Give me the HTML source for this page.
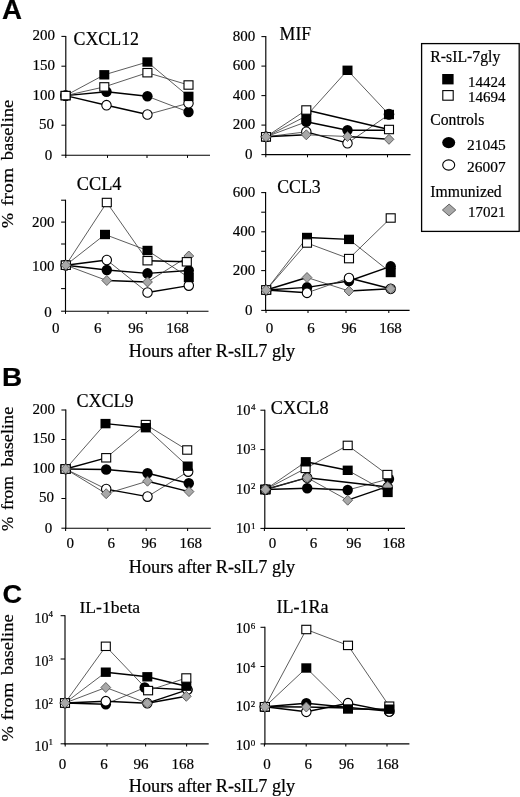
<!DOCTYPE html>
<html lang="en">
<head>
<meta charset="utf-8">
<title>Figure</title>
<style>
html,body{margin:0;padding:0;background:#fff;}
body{width:520px;height:797px;overflow:hidden;}
svg{display:block;will-change:transform;}
svg text{font-family:"Liberation Serif",serif;fill:#000;stroke:#000;stroke-width:0.2px;}
</style>
</head>
<body>
<svg width="520" height="797" viewBox="0 0 520 797">
<rect x="0" y="0" width="520" height="797" fill="#fff"/>
<text x="2.1" y="19" font-size="28.4" textLength="20" lengthAdjust="spacingAndGlyphs" font-weight="bold" style="font-family:'Liberation Sans',sans-serif">A</text>
<text x="2.0" y="385.6" font-size="26" textLength="20.2" lengthAdjust="spacingAndGlyphs" font-weight="bold" style="font-family:'Liberation Sans',sans-serif">B</text>
<text x="2.4" y="602.6" font-size="26" textLength="19.6" lengthAdjust="spacingAndGlyphs" font-weight="bold" style="font-family:'Liberation Sans',sans-serif">C</text>
<text transform="translate(13.2,160.3) rotate(-90)" font-size="17.5" textLength="60.5" lengthAdjust="spacingAndGlyphs">baseline</text>
<text transform="translate(13.2,205.9) rotate(-90)" font-size="17.5" textLength="38" lengthAdjust="spacingAndGlyphs">from</text>
<text transform="translate(13.2,228.1) rotate(-90)" font-size="17.5" textLength="15" lengthAdjust="spacingAndGlyphs">%</text>
<text transform="translate(13.2,466.6) rotate(-90)" font-size="17.5" textLength="60" lengthAdjust="spacingAndGlyphs">baseline</text>
<text transform="translate(13.2,510.1) rotate(-90)" font-size="17.5" textLength="34" lengthAdjust="spacingAndGlyphs">from</text>
<text transform="translate(13.2,530.9) rotate(-90)" font-size="17.5" textLength="14.2" lengthAdjust="spacingAndGlyphs">%</text>
<text transform="translate(13.2,674.9) rotate(-90)" font-size="17.5" textLength="60.5" lengthAdjust="spacingAndGlyphs">baseline</text>
<text transform="translate(13.2,720.5) rotate(-90)" font-size="17.5" textLength="38" lengthAdjust="spacingAndGlyphs">from</text>
<text transform="translate(13.2,741.3) rotate(-90)" font-size="17.5" textLength="15" lengthAdjust="spacingAndGlyphs">%</text>
<text x="128.8" y="356.9" font-size="18" textLength="166.4" lengthAdjust="spacingAndGlyphs">Hours after R-sIL7 gly</text>
<text x="128.8" y="573.4" font-size="18" textLength="166.4" lengthAdjust="spacingAndGlyphs">Hours after R-sIL7 gly</text>
<text x="128.8" y="792.2" font-size="18" textLength="166.4" lengthAdjust="spacingAndGlyphs">Hours after R-sIL7 gly</text>
<line x1="65.8" y1="35.9" x2="65.8" y2="155.7" stroke="#000" stroke-width="1.15"/>
<line x1="65.3" y1="155.2" x2="210" y2="155.2" stroke="#000" stroke-width="1.15"/>
<line x1="61.4" y1="36.4" x2="65.8" y2="36.4" stroke="#000" stroke-width="1.05"/>
<line x1="61.4" y1="66.2" x2="65.8" y2="66.2" stroke="#000" stroke-width="1.05"/>
<line x1="61.4" y1="95.8" x2="65.8" y2="95.8" stroke="#000" stroke-width="1.05"/>
<line x1="61.4" y1="125.2" x2="65.8" y2="125.2" stroke="#000" stroke-width="1.05"/>
<line x1="61.4" y1="155.2" x2="65.8" y2="155.2" stroke="#000" stroke-width="1.05"/>
<line x1="107.5" y1="155.2" x2="107.5" y2="157.89999999999998" stroke="#000" stroke-width="1.05"/>
<line x1="147" y1="155.2" x2="147" y2="157.89999999999998" stroke="#000" stroke-width="1.05"/>
<line x1="187.5" y1="155.2" x2="187.5" y2="157.89999999999998" stroke="#000" stroke-width="1.05"/>
<line x1="65.8" y1="155.2" x2="65.8" y2="157.89999999999998" stroke="#000" stroke-width="1.05"/>
<text x="55" y="40.1" font-size="15" text-anchor="end">200</text>
<text x="55" y="69.9" font-size="15" text-anchor="end">150</text>
<text x="55" y="99.5" font-size="15" text-anchor="end">100</text>
<text x="54.0" y="128.9" font-size="15" text-anchor="end">50</text>
<text x="52.3" y="159.7" font-size="15" text-anchor="end">0</text>
<text x="73.5" y="44.8" font-size="18" textLength="65.5" lengthAdjust="spacingAndGlyphs">CXCL12</text>
<line x1="65.6" y1="95.6" x2="106.5" y2="91.8" stroke="#000" stroke-width="1.4"/>
<line x1="106.5" y1="91.8" x2="147.4" y2="96.3" stroke="#000" stroke-width="1.4"/>
<line x1="147.4" y1="96.3" x2="188.5" y2="112" stroke="#333" stroke-width="0.8"/>
<line x1="65.6" y1="95.6" x2="106.5" y2="105.2" stroke="#000" stroke-width="1.4"/>
<line x1="106.5" y1="105.2" x2="147.4" y2="114.5" stroke="#000" stroke-width="1.4"/>
<line x1="147.4" y1="114.5" x2="188.5" y2="103.2" stroke="#333" stroke-width="0.8"/>
<line x1="65.6" y1="95.6" x2="104.3" y2="74.8" stroke="#333" stroke-width="0.8"/>
<line x1="104.3" y1="74.8" x2="147.4" y2="62" stroke="#333" stroke-width="0.8"/>
<line x1="147.4" y1="62" x2="188.5" y2="96.4" stroke="#333" stroke-width="0.8"/>
<line x1="65.6" y1="95.6" x2="104.3" y2="86.9" stroke="#333" stroke-width="0.8"/>
<line x1="104.3" y1="86.9" x2="147.4" y2="72.7" stroke="#333" stroke-width="0.8"/>
<line x1="147.4" y1="72.7" x2="188.5" y2="85" stroke="#333" stroke-width="0.8"/>
<ellipse cx="65.6" cy="95.6" rx="5.2" ry="5.3" fill="#000"/>
<ellipse cx="106.5" cy="91.8" rx="5.2" ry="5.3" fill="#000"/>
<ellipse cx="147.4" cy="96.3" rx="5.2" ry="5.3" fill="#000"/>
<ellipse cx="188.5" cy="112" rx="5.2" ry="5.3" fill="#000"/>
<ellipse cx="65.6" cy="95.6" rx="4.7" ry="4.8" fill="#fff" stroke="#000" stroke-width="1.1"/>
<ellipse cx="106.5" cy="105.2" rx="4.7" ry="4.8" fill="#fff" stroke="#000" stroke-width="1.1"/>
<ellipse cx="147.4" cy="114.5" rx="4.7" ry="4.8" fill="#fff" stroke="#000" stroke-width="1.1"/>
<ellipse cx="188.5" cy="103.2" rx="4.7" ry="4.8" fill="#fff" stroke="#000" stroke-width="1.1"/>
<rect x="60.60" y="90.90" width="10.0" height="9.4" fill="#000"/>
<rect x="99.30" y="70.10" width="10.0" height="9.4" fill="#000"/>
<rect x="142.40" y="57.30" width="10.0" height="9.4" fill="#000"/>
<rect x="183.50" y="91.70" width="10.0" height="9.4" fill="#000"/>
<rect x="61.10" y="91.40" width="9.0" height="8.4" fill="#fff" stroke="#000" stroke-width="1.1"/>
<rect x="99.80" y="82.70" width="9.0" height="8.4" fill="#fff" stroke="#000" stroke-width="1.1"/>
<rect x="142.90" y="68.50" width="9.0" height="8.4" fill="#fff" stroke="#000" stroke-width="1.1"/>
<rect x="184.00" y="80.80" width="9.0" height="8.4" fill="#fff" stroke="#000" stroke-width="1.1"/>
<line x1="265.8" y1="36.1" x2="265.8" y2="155.1" stroke="#000" stroke-width="1.15"/>
<line x1="265.3" y1="154.6" x2="410.5" y2="154.6" stroke="#000" stroke-width="1.15"/>
<line x1="261.4" y1="36.6" x2="265.8" y2="36.6" stroke="#000" stroke-width="1.05"/>
<line x1="261.4" y1="66.1" x2="265.8" y2="66.1" stroke="#000" stroke-width="1.05"/>
<line x1="261.4" y1="95.6" x2="265.8" y2="95.6" stroke="#000" stroke-width="1.05"/>
<line x1="261.4" y1="125.1" x2="265.8" y2="125.1" stroke="#000" stroke-width="1.05"/>
<line x1="261.4" y1="154.6" x2="265.8" y2="154.6" stroke="#000" stroke-width="1.05"/>
<line x1="307.5" y1="154.6" x2="307.5" y2="157.29999999999998" stroke="#000" stroke-width="1.05"/>
<line x1="346.5" y1="154.6" x2="346.5" y2="157.29999999999998" stroke="#000" stroke-width="1.05"/>
<line x1="387.5" y1="154.6" x2="387.5" y2="157.29999999999998" stroke="#000" stroke-width="1.05"/>
<line x1="265.8" y1="154.6" x2="265.8" y2="157.29999999999998" stroke="#000" stroke-width="1.05"/>
<text x="255.2" y="40.5" font-size="15" text-anchor="end">800</text>
<text x="255.2" y="70.0" font-size="15" text-anchor="end">600</text>
<text x="255.2" y="99.5" font-size="15" text-anchor="end">400</text>
<text x="255.2" y="129.0" font-size="15" text-anchor="end">200</text>
<text x="252.5" y="159.3" font-size="15" text-anchor="end">0</text>
<text x="279.6" y="40.3" font-size="18" textLength="31.6" lengthAdjust="spacingAndGlyphs">MIF</text>
<line x1="266" y1="136.8" x2="306.3" y2="121.8" stroke="#333" stroke-width="0.8"/>
<line x1="306.3" y1="121.8" x2="347.5" y2="130.3" stroke="#000" stroke-width="1.4"/>
<line x1="266" y1="136.8" x2="306.3" y2="131.8" stroke="#333" stroke-width="0.8"/>
<line x1="306.3" y1="131.8" x2="347.5" y2="143.2" stroke="#000" stroke-width="1.4"/>
<line x1="347.5" y1="143.2" x2="389" y2="114.5" stroke="#333" stroke-width="0.8"/>
<line x1="266" y1="136.8" x2="306.3" y2="116" stroke="#333" stroke-width="0.8"/>
<line x1="306.3" y1="116" x2="347.5" y2="70.3" stroke="#333" stroke-width="0.8"/>
<line x1="347.5" y1="70.3" x2="389" y2="114.5" stroke="#333" stroke-width="0.8"/>
<line x1="266" y1="136.8" x2="306.3" y2="110" stroke="#333" stroke-width="0.8"/>
<line x1="306.3" y1="110" x2="389" y2="129.5" stroke="#000" stroke-width="1.4"/>
<line x1="266" y1="136.8" x2="306.3" y2="134.8" stroke="#000" stroke-width="1.4"/>
<line x1="306.3" y1="134.8" x2="347.5" y2="136.5" stroke="#333" stroke-width="0.8"/>
<line x1="347.5" y1="136.5" x2="389" y2="139.3" stroke="#000" stroke-width="1.4"/>
<line x1="347.5" y1="130.3" x2="389" y2="130.2" stroke="#000" stroke-width="1.4"/>
<ellipse cx="266" cy="136.8" rx="5.2" ry="5.3" fill="#000"/>
<ellipse cx="306.3" cy="121.8" rx="5.2" ry="5.3" fill="#000"/>
<ellipse cx="347.5" cy="130.3" rx="5.2" ry="5.3" fill="#000"/>
<ellipse cx="389" cy="114" rx="5.2" ry="5.3" fill="#000"/>
<ellipse cx="266" cy="136.8" rx="4.7" ry="4.8" fill="#fff" stroke="#000" stroke-width="1.1"/>
<ellipse cx="306.3" cy="131.8" rx="4.7" ry="4.8" fill="#fff" stroke="#000" stroke-width="1.1"/>
<ellipse cx="347.5" cy="143.2" rx="4.7" ry="4.8" fill="#fff" stroke="#000" stroke-width="1.1"/>
<ellipse cx="389" cy="114.5" rx="4.7" ry="4.8" fill="#fff" stroke="#000" stroke-width="1.1"/>
<rect x="261.00" y="132.10" width="10.0" height="9.4" fill="#000"/>
<rect x="301.30" y="111.30" width="10.0" height="9.4" fill="#000"/>
<rect x="342.50" y="65.60" width="10.0" height="9.4" fill="#000"/>
<rect x="384.00" y="109.80" width="10.0" height="9.4" fill="#000"/>
<rect x="261.50" y="132.60" width="9.0" height="8.4" fill="#fff" stroke="#000" stroke-width="1.1"/>
<rect x="301.80" y="105.80" width="9.0" height="8.4" fill="#fff" stroke="#000" stroke-width="1.1"/>
<rect x="384.50" y="125.30" width="9.0" height="8.4" fill="#fff" stroke="#000" stroke-width="1.1"/>
<polygon points="261.10,136.8 266,131.80 270.90,136.8 266,141.80" fill="#a8a8a8" stroke="#555" stroke-width="0.9"/>
<polygon points="301.40,134.8 306.3,129.80 311.20,134.8 306.3,139.80" fill="#a8a8a8" stroke="#555" stroke-width="0.9"/>
<polygon points="342.60,136.5 347.5,131.50 352.40,136.5 347.5,141.50" fill="#a8a8a8" stroke="#555" stroke-width="0.9"/>
<polygon points="384.10,139.3 389,134.30 393.90,139.3 389,144.30" fill="#a8a8a8" stroke="#555" stroke-width="0.9"/>
<rect x="421.6" y="43.6" width="97.6" height="187.8" fill="#fff" stroke="#000" stroke-width="1.3"/>
<text x="430.3" y="62.3" font-size="15.7" textLength="70" lengthAdjust="spacingAndGlyphs">R-sIL-7gly</text>
<rect x="442.2" y="74" width="11.4" height="10.4" fill="#000"/>
<text x="468.0" y="86.7" font-size="15" textLength="37.4" lengthAdjust="spacingAndGlyphs">14424</text>
<rect x="442.8" y="90.6" width="10.4" height="9.6" fill="#fff" stroke="#000" stroke-width="1.1"/>
<text x="468.0" y="101.5" font-size="15" textLength="37.4" lengthAdjust="spacingAndGlyphs">14694</text>
<text x="430.3" y="125.2" font-size="15.7" textLength="54" lengthAdjust="spacingAndGlyphs">Controls</text>
<ellipse cx="448.7" cy="142.6" rx="6.5" ry="5.6" fill="#000"/>
<text x="467.0" y="149.6" font-size="15" textLength="38.6" lengthAdjust="spacingAndGlyphs">21045</text>
<ellipse cx="448.7" cy="165" rx="6" ry="5.1" fill="#fff" stroke="#000" stroke-width="1.1"/>
<text x="467.0" y="172.3" font-size="15" textLength="38.6" lengthAdjust="spacingAndGlyphs">26007</text>
<text x="430.3" y="196.8" font-size="15.7" textLength="71.4" lengthAdjust="spacingAndGlyphs">Immunized</text>
<polygon points="442.4,210 449.1,204.1 455.8,210 449.1,215.9" fill="#a8a8a8" stroke="#555" stroke-width="0.9"/>
<text x="468.0" y="217.2" font-size="15" textLength="37.6" lengthAdjust="spacingAndGlyphs">17021</text>
<line x1="65.5" y1="199.7" x2="65.5" y2="311.7" stroke="#000" stroke-width="1.15"/>
<line x1="65.0" y1="311.2" x2="208.5" y2="311.2" stroke="#000" stroke-width="1.15"/>
<line x1="61.1" y1="200.2" x2="65.5" y2="200.2" stroke="#000" stroke-width="1.05"/>
<line x1="61.1" y1="222.1" x2="65.5" y2="222.1" stroke="#000" stroke-width="1.05"/>
<line x1="61.1" y1="244" x2="65.5" y2="244" stroke="#000" stroke-width="1.05"/>
<line x1="61.1" y1="266.2" x2="65.5" y2="266.2" stroke="#000" stroke-width="1.05"/>
<line x1="61.1" y1="288.6" x2="65.5" y2="288.6" stroke="#000" stroke-width="1.05"/>
<line x1="61.1" y1="311.2" x2="65.5" y2="311.2" stroke="#000" stroke-width="1.05"/>
<line x1="65.5" y1="311.2" x2="65.5" y2="313.9" stroke="#000" stroke-width="1.05"/>
<line x1="108" y1="311.2" x2="108" y2="313.9" stroke="#000" stroke-width="1.05"/>
<line x1="146.3" y1="311.2" x2="146.3" y2="313.9" stroke="#000" stroke-width="1.05"/>
<line x1="187.3" y1="311.2" x2="187.3" y2="313.9" stroke="#000" stroke-width="1.05"/>
<text x="54.4" y="226.6" font-size="15" text-anchor="end">200</text>
<text x="54.4" y="270.7" font-size="15" text-anchor="end">100</text>
<text x="51.7" y="316.5" font-size="15" text-anchor="end">0</text>
<text x="76.8" y="189.8" font-size="18" textLength="44.6" lengthAdjust="spacingAndGlyphs">CCL4</text>
<line x1="65.8" y1="265.2" x2="106.8" y2="270" stroke="#000" stroke-width="1.4"/>
<line x1="106.8" y1="270" x2="147.5" y2="273.4" stroke="#000" stroke-width="1.4"/>
<line x1="147.5" y1="273.4" x2="188.8" y2="270.5" stroke="#000" stroke-width="1.4"/>
<line x1="65.8" y1="265.2" x2="106.8" y2="260" stroke="#000" stroke-width="1.4"/>
<line x1="106.8" y1="260" x2="147.5" y2="292.5" stroke="#333" stroke-width="0.8"/>
<line x1="147.5" y1="292.5" x2="188.8" y2="285.6" stroke="#000" stroke-width="1.4"/>
<line x1="65.8" y1="265.2" x2="106.8" y2="280.5" stroke="#333" stroke-width="0.8"/>
<line x1="106.8" y1="280.5" x2="147.5" y2="282" stroke="#000" stroke-width="1.4"/>
<line x1="147.5" y1="282" x2="188.8" y2="256" stroke="#333" stroke-width="0.8"/>
<line x1="65.8" y1="265.2" x2="105.0" y2="234.5" stroke="#333" stroke-width="0.8"/>
<line x1="105.0" y1="234.5" x2="147.5" y2="250.5" stroke="#333" stroke-width="0.8"/>
<line x1="147.5" y1="250.5" x2="188.8" y2="277.5" stroke="#333" stroke-width="0.8"/>
<line x1="65.8" y1="265.2" x2="106.8" y2="202.5" stroke="#333" stroke-width="0.8"/>
<line x1="106.8" y1="202.5" x2="147.5" y2="260.7" stroke="#333" stroke-width="0.8"/>
<line x1="147.5" y1="260.7" x2="186.8" y2="261.8" stroke="#000" stroke-width="1.4"/>
<ellipse cx="65.8" cy="265.2" rx="5.2" ry="5.3" fill="#000"/>
<ellipse cx="106.8" cy="270" rx="5.2" ry="5.3" fill="#000"/>
<ellipse cx="147.5" cy="273.4" rx="5.2" ry="5.3" fill="#000"/>
<ellipse cx="188.8" cy="270.5" rx="5.2" ry="5.3" fill="#000"/>
<ellipse cx="65.8" cy="265.2" rx="4.7" ry="4.8" fill="#fff" stroke="#000" stroke-width="1.1"/>
<ellipse cx="106.8" cy="260" rx="4.7" ry="4.8" fill="#fff" stroke="#000" stroke-width="1.1"/>
<ellipse cx="147.5" cy="292.5" rx="4.7" ry="4.8" fill="#fff" stroke="#000" stroke-width="1.1"/>
<ellipse cx="188.8" cy="285.6" rx="4.7" ry="4.8" fill="#fff" stroke="#000" stroke-width="1.1"/>
<polygon points="60.90,265.2 65.8,260.20 70.70,265.2 65.8,270.20" fill="#a8a8a8" stroke="#555" stroke-width="0.9"/>
<polygon points="101.90,280.5 106.8,275.50 111.70,280.5 106.8,285.50" fill="#a8a8a8" stroke="#555" stroke-width="0.9"/>
<polygon points="142.60,282 147.5,277.00 152.40,282 147.5,287.00" fill="#a8a8a8" stroke="#555" stroke-width="0.9"/>
<polygon points="183.90,256 188.8,251.00 193.70,256 188.8,261.00" fill="#a8a8a8" stroke="#555" stroke-width="0.9"/>
<rect x="60.80" y="260.50" width="10.0" height="9.4" fill="#000"/>
<rect x="100.00" y="229.80" width="10.0" height="9.4" fill="#000"/>
<rect x="142.50" y="245.80" width="10.0" height="9.4" fill="#000"/>
<rect x="183.80" y="272.80" width="10.0" height="9.4" fill="#000"/>
<rect x="61.30" y="261.00" width="9.0" height="8.4" fill="#fff" stroke="#000" stroke-width="1.1"/>
<rect x="102.30" y="198.30" width="9.0" height="8.4" fill="#fff" stroke="#000" stroke-width="1.1"/>
<rect x="143.00" y="256.50" width="9.0" height="8.4" fill="#fff" stroke="#000" stroke-width="1.1"/>
<rect x="182.30" y="257.60" width="9.0" height="8.4" fill="#fff" stroke="#000" stroke-width="1.1"/>
<polygon points="60.90,265.2 65.8,260.20 70.70,265.2 65.8,270.20" fill="#a8a8a8" stroke="#555" stroke-width="0.9"/>
<text x="55.7" y="332.7" font-size="15" text-anchor="middle">0</text>
<text x="97.8" y="332.7" font-size="15" text-anchor="middle">6</text>
<text x="135.8" y="332.7" font-size="15" text-anchor="middle">96</text>
<text x="177.5" y="332.7" font-size="15" text-anchor="middle">168</text>
<line x1="265.6" y1="192.1" x2="265.6" y2="310.9" stroke="#000" stroke-width="1.15"/>
<line x1="265.1" y1="310.4" x2="409.6" y2="310.4" stroke="#000" stroke-width="1.15"/>
<line x1="261.2" y1="192.6" x2="265.6" y2="192.6" stroke="#000" stroke-width="1.05"/>
<line x1="261.2" y1="212.2" x2="265.6" y2="212.2" stroke="#000" stroke-width="1.05"/>
<line x1="261.2" y1="231.8" x2="265.6" y2="231.8" stroke="#000" stroke-width="1.05"/>
<line x1="261.2" y1="251.3" x2="265.6" y2="251.3" stroke="#000" stroke-width="1.05"/>
<line x1="261.2" y1="270.6" x2="265.6" y2="270.6" stroke="#000" stroke-width="1.05"/>
<line x1="261.2" y1="290.2" x2="265.6" y2="290.2" stroke="#000" stroke-width="1.05"/>
<line x1="261.2" y1="310.4" x2="265.6" y2="310.4" stroke="#000" stroke-width="1.05"/>
<line x1="266" y1="310.4" x2="266" y2="313.09999999999997" stroke="#000" stroke-width="1.05"/>
<line x1="308" y1="310.4" x2="308" y2="313.09999999999997" stroke="#000" stroke-width="1.05"/>
<line x1="346" y1="310.4" x2="346" y2="313.09999999999997" stroke="#000" stroke-width="1.05"/>
<line x1="388.8" y1="310.4" x2="388.8" y2="313.09999999999997" stroke="#000" stroke-width="1.05"/>
<text x="255.2" y="196.8" font-size="15" text-anchor="end">600</text>
<text x="255.2" y="236.0" font-size="15" text-anchor="end">400</text>
<text x="255.2" y="274.8" font-size="15" text-anchor="end">200</text>
<text x="252.5" y="315.4" font-size="15" text-anchor="end">0</text>
<text x="277.2" y="192.8" font-size="18" textLength="43.6" lengthAdjust="spacingAndGlyphs">CCL3</text>
<line x1="266.2" y1="290" x2="307" y2="287.4" stroke="#000" stroke-width="1.4"/>
<line x1="307" y1="287.4" x2="349" y2="281" stroke="#000" stroke-width="1.4"/>
<line x1="349" y1="281" x2="390.7" y2="266.4" stroke="#000" stroke-width="1.4"/>
<line x1="266.2" y1="290" x2="307" y2="292.8" stroke="#000" stroke-width="1.4"/>
<line x1="307" y1="292.8" x2="349" y2="278" stroke="#333" stroke-width="0.8"/>
<line x1="349" y1="278" x2="390.7" y2="288.8" stroke="#000" stroke-width="1.4"/>
<line x1="266.2" y1="290" x2="307" y2="237.5" stroke="#333" stroke-width="0.8"/>
<line x1="307" y1="237.5" x2="349" y2="239.4" stroke="#000" stroke-width="1.4"/>
<line x1="349" y1="239.4" x2="390.7" y2="272.5" stroke="#333" stroke-width="0.8"/>
<line x1="266.2" y1="290" x2="307" y2="243" stroke="#333" stroke-width="0.8"/>
<line x1="307" y1="243" x2="349" y2="258.6" stroke="#333" stroke-width="0.8"/>
<line x1="349" y1="258.6" x2="390.7" y2="218" stroke="#333" stroke-width="0.8"/>
<line x1="266.2" y1="290" x2="307" y2="277.5" stroke="#000" stroke-width="1.4"/>
<line x1="307" y1="277.5" x2="349" y2="291" stroke="#333" stroke-width="0.8"/>
<line x1="349" y1="291" x2="390.7" y2="288.8" stroke="#000" stroke-width="1.4"/>
<ellipse cx="266.2" cy="290" rx="5.2" ry="5.3" fill="#000"/>
<ellipse cx="307" cy="287.4" rx="5.2" ry="5.3" fill="#000"/>
<ellipse cx="349" cy="281" rx="5.2" ry="5.3" fill="#000"/>
<ellipse cx="390.7" cy="266.4" rx="5.2" ry="5.3" fill="#000"/>
<ellipse cx="266.2" cy="290" rx="4.7" ry="4.8" fill="#fff" stroke="#000" stroke-width="1.1"/>
<ellipse cx="307" cy="292.8" rx="4.7" ry="4.8" fill="#fff" stroke="#000" stroke-width="1.1"/>
<ellipse cx="349" cy="278" rx="4.7" ry="4.8" fill="#fff" stroke="#000" stroke-width="1.1"/>
<ellipse cx="390.7" cy="288.8" rx="4.7" ry="4.8" fill="#fff" stroke="#000" stroke-width="1.1"/>
<rect x="261.20" y="285.30" width="10.0" height="9.4" fill="#000"/>
<rect x="302.00" y="232.80" width="10.0" height="9.4" fill="#000"/>
<rect x="344.00" y="234.70" width="10.0" height="9.4" fill="#000"/>
<rect x="385.70" y="267.80" width="10.0" height="9.4" fill="#000"/>
<rect x="261.70" y="285.80" width="9.0" height="8.4" fill="#fff" stroke="#000" stroke-width="1.1"/>
<rect x="302.50" y="238.80" width="9.0" height="8.4" fill="#fff" stroke="#000" stroke-width="1.1"/>
<rect x="344.50" y="254.40" width="9.0" height="8.4" fill="#fff" stroke="#000" stroke-width="1.1"/>
<rect x="386.20" y="213.80" width="9.0" height="8.4" fill="#fff" stroke="#000" stroke-width="1.1"/>
<polygon points="261.30,290 266.2,285.00 271.10,290 266.2,295.00" fill="#a8a8a8" stroke="#555" stroke-width="0.9"/>
<polygon points="302.10,277.5 307,272.50 311.90,277.5 307,282.50" fill="#a8a8a8" stroke="#555" stroke-width="0.9"/>
<polygon points="344.10,291 349,286.00 353.90,291 349,296.00" fill="#a8a8a8" stroke="#555" stroke-width="0.9"/>
<polygon points="385.80,288.8 390.7,283.80 395.60,288.8 390.7,293.80" fill="#a8a8a8" stroke="#555" stroke-width="0.9"/>
<text x="269.6" y="332.7" font-size="15" text-anchor="middle">0</text>
<text x="311.1" y="332.7" font-size="15" text-anchor="middle">6</text>
<text x="348.9" y="332.7" font-size="15" text-anchor="middle">96</text>
<text x="390.4" y="332.7" font-size="15" text-anchor="middle">168</text>
<line x1="65.8" y1="409.5" x2="65.8" y2="528.7" stroke="#000" stroke-width="1.15"/>
<line x1="65.3" y1="528.2" x2="210.8" y2="528.2" stroke="#000" stroke-width="1.15"/>
<line x1="61.4" y1="410" x2="65.8" y2="410" stroke="#000" stroke-width="1.05"/>
<line x1="61.4" y1="439.5" x2="65.8" y2="439.5" stroke="#000" stroke-width="1.05"/>
<line x1="61.4" y1="469" x2="65.8" y2="469" stroke="#000" stroke-width="1.05"/>
<line x1="61.4" y1="498.5" x2="65.8" y2="498.5" stroke="#000" stroke-width="1.05"/>
<line x1="61.4" y1="528.2" x2="65.8" y2="528.2" stroke="#000" stroke-width="1.05"/>
<line x1="65.6" y1="528.2" x2="65.6" y2="530.9000000000001" stroke="#000" stroke-width="1.05"/>
<line x1="107.8" y1="528.2" x2="107.8" y2="530.9000000000001" stroke="#000" stroke-width="1.05"/>
<line x1="146.2" y1="528.2" x2="146.2" y2="530.9000000000001" stroke="#000" stroke-width="1.05"/>
<line x1="187.6" y1="528.2" x2="187.6" y2="530.9000000000001" stroke="#000" stroke-width="1.05"/>
<text x="55" y="413.7" font-size="15" text-anchor="end">200</text>
<text x="55" y="443.2" font-size="15" text-anchor="end">150</text>
<text x="55" y="472.7" font-size="15" text-anchor="end">100</text>
<text x="54.0" y="502.2" font-size="15" text-anchor="end">50</text>
<text x="52.3" y="532.7" font-size="15" text-anchor="end">0</text>
<text x="76.4" y="406.5" font-size="18" textLength="57.2" lengthAdjust="spacingAndGlyphs">CXCL9</text>
<line x1="65.6" y1="469" x2="106.2" y2="469.5" stroke="#000" stroke-width="1.4"/>
<line x1="106.2" y1="469.5" x2="147.5" y2="473.2" stroke="#000" stroke-width="1.4"/>
<line x1="147.5" y1="473.2" x2="188.8" y2="483.2" stroke="#000" stroke-width="1.4"/>
<line x1="65.6" y1="469" x2="106.2" y2="489.1" stroke="#333" stroke-width="0.8"/>
<line x1="106.2" y1="489.1" x2="147.5" y2="496.6" stroke="#000" stroke-width="1.4"/>
<line x1="147.5" y1="496.6" x2="188.2" y2="471.6" stroke="#333" stroke-width="0.8"/>
<line x1="65.6" y1="469" x2="106.2" y2="457.8" stroke="#000" stroke-width="1.4"/>
<line x1="106.2" y1="457.8" x2="145.8" y2="424.6" stroke="#333" stroke-width="0.8"/>
<line x1="145.8" y1="424.6" x2="187.2" y2="450" stroke="#333" stroke-width="0.8"/>
<line x1="65.6" y1="469" x2="105.5" y2="423.6" stroke="#333" stroke-width="0.8"/>
<line x1="105.5" y1="423.6" x2="145.8" y2="427.7" stroke="#000" stroke-width="1.4"/>
<line x1="145.8" y1="427.7" x2="187.7" y2="466.2" stroke="#333" stroke-width="0.8"/>
<line x1="65.6" y1="469" x2="106.2" y2="493.7" stroke="#333" stroke-width="0.8"/>
<line x1="106.2" y1="493.7" x2="147.5" y2="481.2" stroke="#333" stroke-width="0.8"/>
<line x1="147.5" y1="481.2" x2="189.0" y2="491.6" stroke="#000" stroke-width="1.4"/>
<ellipse cx="65.6" cy="469" rx="5.2" ry="5.3" fill="#000"/>
<ellipse cx="106.2" cy="469.5" rx="5.2" ry="5.3" fill="#000"/>
<ellipse cx="147.5" cy="473.2" rx="5.2" ry="5.3" fill="#000"/>
<ellipse cx="188.8" cy="483.2" rx="5.2" ry="5.3" fill="#000"/>
<ellipse cx="65.6" cy="469" rx="4.7" ry="4.8" fill="#fff" stroke="#000" stroke-width="1.1"/>
<ellipse cx="106.2" cy="489.1" rx="4.7" ry="4.8" fill="#fff" stroke="#000" stroke-width="1.1"/>
<ellipse cx="147.5" cy="496.6" rx="4.7" ry="4.8" fill="#fff" stroke="#000" stroke-width="1.1"/>
<ellipse cx="188.2" cy="471.6" rx="4.7" ry="4.8" fill="#fff" stroke="#000" stroke-width="1.1"/>
<rect x="61.10" y="464.80" width="9.0" height="8.4" fill="#fff" stroke="#000" stroke-width="1.1"/>
<rect x="101.70" y="453.60" width="9.0" height="8.4" fill="#fff" stroke="#000" stroke-width="1.1"/>
<rect x="141.30" y="420.40" width="9.0" height="8.4" fill="#fff" stroke="#000" stroke-width="1.1"/>
<rect x="182.70" y="445.80" width="9.0" height="8.4" fill="#fff" stroke="#000" stroke-width="1.1"/>
<rect x="60.60" y="464.30" width="10.0" height="9.4" fill="#000"/>
<rect x="100.50" y="418.90" width="10.0" height="9.4" fill="#000"/>
<rect x="140.80" y="423.00" width="10.0" height="9.4" fill="#000"/>
<rect x="182.70" y="461.50" width="10.0" height="9.4" fill="#000"/>
<polygon points="60.70,469 65.6,464.00 70.50,469 65.6,474.00" fill="#a8a8a8" stroke="#555" stroke-width="0.9"/>
<polygon points="101.30,493.7 106.2,488.70 111.10,493.7 106.2,498.70" fill="#a8a8a8" stroke="#555" stroke-width="0.9"/>
<polygon points="142.60,481.2 147.5,476.20 152.40,481.2 147.5,486.20" fill="#a8a8a8" stroke="#555" stroke-width="0.9"/>
<polygon points="184.10,491.6 189.0,486.60 193.90,491.6 189.0,496.60" fill="#a8a8a8" stroke="#555" stroke-width="0.9"/>
<rect x="61.10" y="464.80" width="9.0" height="8.4" fill="#fff" stroke="#000" stroke-width="1.1"/>
<polygon points="60.70,469 65.6,464.00 70.50,469 65.6,474.00" fill="#a8a8a8" stroke="#555" stroke-width="0.9"/>
<text x="70.2" y="547.8" font-size="15" text-anchor="middle">0</text>
<text x="111.2" y="547.8" font-size="15" text-anchor="middle">6</text>
<text x="149" y="547.8" font-size="15" text-anchor="middle">96</text>
<text x="190.8" y="547.8" font-size="15" text-anchor="middle">168</text>
<line x1="264.8" y1="409.7" x2="264.8" y2="528.9" stroke="#000" stroke-width="1.15"/>
<line x1="264.3" y1="528.4" x2="405" y2="528.4" stroke="#000" stroke-width="1.15"/>
<line x1="260.4" y1="410.2" x2="264.8" y2="410.2" stroke="#000" stroke-width="1.05"/>
<line x1="260.4" y1="449.6" x2="264.8" y2="449.6" stroke="#000" stroke-width="1.05"/>
<line x1="260.4" y1="489.2" x2="264.8" y2="489.2" stroke="#000" stroke-width="1.05"/>
<line x1="260.4" y1="528.4" x2="264.8" y2="528.4" stroke="#000" stroke-width="1.05"/>
<line x1="264.4" y1="528.4" x2="264.4" y2="531.1" stroke="#000" stroke-width="1.05"/>
<line x1="306.8" y1="528.4" x2="306.8" y2="531.1" stroke="#000" stroke-width="1.05"/>
<line x1="347.4" y1="528.4" x2="347.4" y2="531.1" stroke="#000" stroke-width="1.05"/>
<line x1="388.4" y1="528.4" x2="388.4" y2="531.1" stroke="#000" stroke-width="1.05"/>
<text x="236.0" y="415.0" font-size="15" textLength="14.4" lengthAdjust="spacingAndGlyphs">10</text>
<text x="250.9" y="410.4" font-size="9">4</text>
<text x="236.0" y="454.4" font-size="15" textLength="14.4" lengthAdjust="spacingAndGlyphs">10</text>
<text x="250.9" y="449.8" font-size="9">3</text>
<text x="236.0" y="494.0" font-size="15" textLength="14.4" lengthAdjust="spacingAndGlyphs">10</text>
<text x="250.9" y="489.4" font-size="9">2</text>
<text x="236.0" y="533.2" font-size="15" textLength="14.4" lengthAdjust="spacingAndGlyphs">10</text>
<text x="250.9" y="528.6" font-size="9">1</text>
<text x="270.8" y="413.6" font-size="18" textLength="57.8" lengthAdjust="spacingAndGlyphs">CXCL8</text>
<line x1="265.4" y1="489.5" x2="307.2" y2="488.2" stroke="#000" stroke-width="1.4"/>
<line x1="307.2" y1="488.2" x2="347.7" y2="490" stroke="#000" stroke-width="1.4"/>
<line x1="347.7" y1="490" x2="389.0" y2="478.9" stroke="#333" stroke-width="0.8"/>
<line x1="265.4" y1="489.5" x2="307.2" y2="477.7" stroke="#000" stroke-width="1.4"/>
<line x1="307.2" y1="477.7" x2="387.7" y2="487" stroke="#000" stroke-width="1.4"/>
<line x1="265.4" y1="489.5" x2="307.2" y2="477.7" stroke="#333" stroke-width="0.8"/>
<line x1="307.2" y1="477.7" x2="347.7" y2="500.2" stroke="#333" stroke-width="0.8"/>
<line x1="347.7" y1="500.2" x2="387.7" y2="486.4" stroke="#000" stroke-width="1.4"/>
<line x1="265.4" y1="489.5" x2="305.6" y2="468.4" stroke="#333" stroke-width="0.8"/>
<line x1="305.6" y1="468.4" x2="347.7" y2="445.4" stroke="#333" stroke-width="0.8"/>
<line x1="347.7" y1="445.4" x2="387.4" y2="474.6" stroke="#333" stroke-width="0.8"/>
<line x1="265.4" y1="489.5" x2="305.8" y2="461.8" stroke="#333" stroke-width="0.8"/>
<line x1="305.8" y1="461.8" x2="347.7" y2="470.3" stroke="#000" stroke-width="1.4"/>
<line x1="347.7" y1="470.3" x2="387.7" y2="492.4" stroke="#333" stroke-width="0.8"/>
<ellipse cx="265.4" cy="489.5" rx="5.2" ry="5.3" fill="#000"/>
<ellipse cx="307.2" cy="488.2" rx="5.2" ry="5.3" fill="#000"/>
<ellipse cx="347.7" cy="490" rx="5.2" ry="5.3" fill="#000"/>
<ellipse cx="389.0" cy="478.9" rx="5.2" ry="5.3" fill="#000"/>
<ellipse cx="265.4" cy="489.5" rx="4.7" ry="4.8" fill="#fff" stroke="#000" stroke-width="1.1"/>
<ellipse cx="307.2" cy="477.7" rx="4.7" ry="4.8" fill="#fff" stroke="#000" stroke-width="1.1"/>
<ellipse cx="387.7" cy="487" rx="4.7" ry="4.8" fill="#fff" stroke="#000" stroke-width="1.1"/>
<polygon points="260.50,489.5 265.4,484.50 270.30,489.5 265.4,494.50" fill="#a8a8a8" stroke="#555" stroke-width="0.9"/>
<polygon points="302.30,477.7 307.2,472.70 312.10,477.7 307.2,482.70" fill="#a8a8a8" stroke="#555" stroke-width="0.9"/>
<polygon points="342.80,500.2 347.7,495.20 352.60,500.2 347.7,505.20" fill="#a8a8a8" stroke="#555" stroke-width="0.9"/>
<polygon points="382.80,486.4 387.7,481.40 392.60,486.4 387.7,491.40" fill="#a8a8a8" stroke="#555" stroke-width="0.9"/>
<rect x="260.90" y="485.30" width="9.0" height="8.4" fill="#fff" stroke="#000" stroke-width="1.1"/>
<rect x="301.10" y="464.20" width="9.0" height="8.4" fill="#fff" stroke="#000" stroke-width="1.1"/>
<rect x="343.20" y="441.20" width="9.0" height="8.4" fill="#fff" stroke="#000" stroke-width="1.1"/>
<rect x="382.90" y="470.40" width="9.0" height="8.4" fill="#fff" stroke="#000" stroke-width="1.1"/>
<rect x="260.40" y="484.80" width="10.0" height="9.4" fill="#000"/>
<rect x="300.80" y="457.10" width="10.0" height="9.4" fill="#000"/>
<rect x="342.70" y="465.60" width="10.0" height="9.4" fill="#000"/>
<rect x="382.70" y="487.70" width="10.0" height="9.4" fill="#000"/>
<rect x="260.90" y="485.30" width="9.0" height="8.4" fill="#fff" stroke="#000" stroke-width="1.1"/>
<ellipse cx="265.4" cy="489.5" rx="4.7" ry="4.8" fill="#fff" stroke="#000" stroke-width="1.1"/>
<polygon points="260.50,489.5 265.4,484.50 270.30,489.5 265.4,494.50" fill="#a8a8a8" stroke="#555" stroke-width="0.9"/>
<text x="272.5" y="547.9" font-size="15" text-anchor="middle">0</text>
<text x="313.6" y="547.9" font-size="15" text-anchor="middle">6</text>
<text x="353.8" y="547.9" font-size="15" text-anchor="middle">96</text>
<text x="393.8" y="547.9" font-size="15" text-anchor="middle">168</text>
<line x1="65" y1="615.2" x2="65" y2="744.3" stroke="#000" stroke-width="1.15"/>
<line x1="64.5" y1="743.8" x2="208.7" y2="743.8" stroke="#000" stroke-width="1.15"/>
<line x1="60.6" y1="615.7" x2="65" y2="615.7" stroke="#000" stroke-width="1.05"/>
<line x1="60.6" y1="659" x2="65" y2="659" stroke="#000" stroke-width="1.05"/>
<line x1="60.6" y1="702.4" x2="65" y2="702.4" stroke="#000" stroke-width="1.05"/>
<line x1="60.6" y1="743.8" x2="65" y2="743.8" stroke="#000" stroke-width="1.05"/>
<line x1="65.2" y1="743.8" x2="65.2" y2="746.5" stroke="#000" stroke-width="1.05"/>
<line x1="107" y1="743.8" x2="107" y2="746.5" stroke="#000" stroke-width="1.05"/>
<line x1="145.6" y1="743.8" x2="145.6" y2="746.5" stroke="#000" stroke-width="1.05"/>
<line x1="186.6" y1="743.8" x2="186.6" y2="746.5" stroke="#000" stroke-width="1.05"/>
<text x="34.5" y="622.6" font-size="15" textLength="14.0" lengthAdjust="spacingAndGlyphs">10</text>
<text x="48.5" y="617.3" font-size="9">4</text>
<text x="34.5" y="665.9" font-size="15" textLength="14.0" lengthAdjust="spacingAndGlyphs">10</text>
<text x="48.5" y="660.6" font-size="9">3</text>
<text x="34.5" y="709.3" font-size="15" textLength="14.0" lengthAdjust="spacingAndGlyphs">10</text>
<text x="48.5" y="704.0" font-size="9">2</text>
<text x="34.5" y="750.7" font-size="15" textLength="14.0" lengthAdjust="spacingAndGlyphs">10</text>
<text x="48.5" y="745.4" font-size="9">1</text>
<text x="79.5" y="612.7" font-size="17.5" textLength="60.6" lengthAdjust="spacingAndGlyphs">IL-1beta</text>
<line x1="65" y1="703" x2="105.8" y2="704.2" stroke="#000" stroke-width="1.4"/>
<line x1="105.8" y1="704.2" x2="144.7" y2="687.6" stroke="#333" stroke-width="0.8"/>
<line x1="144.7" y1="687.6" x2="187.5" y2="689.8" stroke="#000" stroke-width="1.4"/>
<line x1="65" y1="703" x2="105.8" y2="701.2" stroke="#000" stroke-width="1.4"/>
<line x1="105.8" y1="701.2" x2="147.3" y2="703.2" stroke="#000" stroke-width="1.4"/>
<line x1="147.3" y1="703.2" x2="187.3" y2="689.8" stroke="#000" stroke-width="1.4"/>
<line x1="65" y1="703" x2="105.8" y2="672.2" stroke="#333" stroke-width="0.8"/>
<line x1="105.8" y1="672.2" x2="147.3" y2="676.8" stroke="#000" stroke-width="1.4"/>
<line x1="147.3" y1="676.8" x2="186.3" y2="686.2" stroke="#000" stroke-width="1.4"/>
<line x1="65" y1="703" x2="105.8" y2="646.3" stroke="#333" stroke-width="0.8"/>
<line x1="105.8" y1="646.3" x2="148.1" y2="690.6" stroke="#333" stroke-width="0.8"/>
<line x1="148.1" y1="690.6" x2="186.3" y2="678" stroke="#333" stroke-width="0.8"/>
<line x1="65" y1="703" x2="105.8" y2="687.5" stroke="#333" stroke-width="0.8"/>
<line x1="105.8" y1="687.5" x2="147.3" y2="703.2" stroke="#333" stroke-width="0.8"/>
<line x1="147.3" y1="703.2" x2="186.3" y2="696.3" stroke="#000" stroke-width="1.4"/>
<ellipse cx="65" cy="703" rx="5.2" ry="5.3" fill="#000"/>
<ellipse cx="105.8" cy="704.2" rx="5.2" ry="5.3" fill="#000"/>
<ellipse cx="144.7" cy="687.6" rx="5.2" ry="5.3" fill="#000"/>
<ellipse cx="187.5" cy="689.8" rx="5.2" ry="5.3" fill="#000"/>
<ellipse cx="65" cy="703" rx="4.7" ry="4.8" fill="#fff" stroke="#000" stroke-width="1.1"/>
<ellipse cx="105.8" cy="701.2" rx="4.7" ry="4.8" fill="#fff" stroke="#000" stroke-width="1.1"/>
<ellipse cx="147.3" cy="703.2" rx="4.7" ry="4.8" fill="#fff" stroke="#000" stroke-width="1.1"/>
<ellipse cx="187.3" cy="689.8" rx="4.7" ry="4.8" fill="#fff" stroke="#000" stroke-width="1.1"/>
<rect x="60.00" y="698.30" width="10.0" height="9.4" fill="#000"/>
<rect x="100.80" y="667.50" width="10.0" height="9.4" fill="#000"/>
<rect x="142.30" y="672.10" width="10.0" height="9.4" fill="#000"/>
<rect x="181.30" y="681.50" width="10.0" height="9.4" fill="#000"/>
<rect x="60.50" y="698.80" width="9.0" height="8.4" fill="#fff" stroke="#000" stroke-width="1.1"/>
<rect x="101.30" y="642.10" width="9.0" height="8.4" fill="#fff" stroke="#000" stroke-width="1.1"/>
<rect x="143.60" y="686.40" width="9.0" height="8.4" fill="#fff" stroke="#000" stroke-width="1.1"/>
<rect x="181.80" y="673.80" width="9.0" height="8.4" fill="#fff" stroke="#000" stroke-width="1.1"/>
<polygon points="60.10,703 65,698.00 69.90,703 65,708.00" fill="#a8a8a8" stroke="#555" stroke-width="0.9"/>
<polygon points="100.90,687.5 105.8,682.50 110.70,687.5 105.8,692.50" fill="#a8a8a8" stroke="#555" stroke-width="0.9"/>
<polygon points="142.40,703.2 147.3,698.20 152.20,703.2 147.3,708.20" fill="#a8a8a8" stroke="#555" stroke-width="0.9"/>
<polygon points="181.40,696.3 186.3,691.30 191.20,696.3 186.3,701.30" fill="#a8a8a8" stroke="#555" stroke-width="0.9"/>
<text x="62.6" y="768.9" font-size="15" text-anchor="middle">0</text>
<text x="104" y="768.9" font-size="15" text-anchor="middle">6</text>
<text x="141.1" y="768.9" font-size="15" text-anchor="middle">96</text>
<text x="182.7" y="768.9" font-size="15" text-anchor="middle">168</text>
<line x1="264.9" y1="626.8" x2="264.9" y2="744.4" stroke="#000" stroke-width="1.15"/>
<line x1="264.4" y1="743.9" x2="409.4" y2="743.9" stroke="#000" stroke-width="1.15"/>
<line x1="260.5" y1="627.3" x2="264.9" y2="627.3" stroke="#000" stroke-width="1.05"/>
<line x1="260.5" y1="666.5" x2="264.9" y2="666.5" stroke="#000" stroke-width="1.05"/>
<line x1="260.5" y1="705.3" x2="264.9" y2="705.3" stroke="#000" stroke-width="1.05"/>
<line x1="260.5" y1="743.9" x2="264.9" y2="743.9" stroke="#000" stroke-width="1.05"/>
<line x1="264.4" y1="743.9" x2="264.4" y2="746.6" stroke="#000" stroke-width="1.05"/>
<line x1="306.2" y1="743.9" x2="306.2" y2="746.6" stroke="#000" stroke-width="1.05"/>
<line x1="345.8" y1="743.9" x2="345.8" y2="746.6" stroke="#000" stroke-width="1.05"/>
<line x1="387" y1="743.9" x2="387" y2="746.6" stroke="#000" stroke-width="1.05"/>
<text x="235.8" y="633.3" font-size="15" textLength="14.5" lengthAdjust="spacingAndGlyphs">10</text>
<text x="250.8" y="628.9" font-size="9">6</text>
<text x="235.8" y="672.5" font-size="15" textLength="14.5" lengthAdjust="spacingAndGlyphs">10</text>
<text x="250.8" y="668.1" font-size="9">4</text>
<text x="235.8" y="711.3" font-size="15" textLength="14.5" lengthAdjust="spacingAndGlyphs">10</text>
<text x="250.8" y="706.9" font-size="9">2</text>
<text x="235.8" y="749.9" font-size="15" textLength="14.5" lengthAdjust="spacingAndGlyphs">10</text>
<text x="250.8" y="745.5" font-size="9">0</text>
<text x="276.6" y="612.7" font-size="17.8" textLength="52" lengthAdjust="spacingAndGlyphs">IL-1Ra</text>
<line x1="264.9" y1="706.8" x2="306.3" y2="703.2" stroke="#000" stroke-width="1.4"/>
<line x1="306.3" y1="703.2" x2="389.3" y2="711.4" stroke="#000" stroke-width="1.4"/>
<line x1="264.9" y1="706.8" x2="306.3" y2="711.8" stroke="#000" stroke-width="1.4"/>
<line x1="306.3" y1="711.8" x2="348" y2="703.2" stroke="#000" stroke-width="1.4"/>
<line x1="348" y1="703.2" x2="389.3" y2="711.4" stroke="#000" stroke-width="1.4"/>
<line x1="264.9" y1="706.8" x2="306.3" y2="629.5" stroke="#333" stroke-width="0.8"/>
<line x1="306.3" y1="629.5" x2="348" y2="645.4" stroke="#333" stroke-width="0.8"/>
<line x1="348" y1="645.4" x2="389.3" y2="706.2" stroke="#333" stroke-width="0.8"/>
<line x1="264.9" y1="706.8" x2="306.3" y2="668" stroke="#333" stroke-width="0.8"/>
<line x1="306.3" y1="668" x2="348" y2="709" stroke="#333" stroke-width="0.8"/>
<line x1="348" y1="709" x2="389.3" y2="709.2" stroke="#000" stroke-width="1.4"/>
<line x1="264.9" y1="706.8" x2="306.3" y2="707" stroke="#000" stroke-width="1.4"/>
<line x1="306.3" y1="707" x2="348" y2="708" stroke="#000" stroke-width="1.4"/>
<ellipse cx="264.9" cy="706.8" rx="5.2" ry="5.3" fill="#000"/>
<ellipse cx="306.3" cy="703.2" rx="5.2" ry="5.3" fill="#000"/>
<ellipse cx="389.3" cy="711.4" rx="5.2" ry="5.3" fill="#000"/>
<ellipse cx="264.9" cy="706.8" rx="4.7" ry="4.8" fill="#fff" stroke="#000" stroke-width="1.1"/>
<ellipse cx="306.3" cy="711.8" rx="4.7" ry="4.8" fill="#fff" stroke="#000" stroke-width="1.1"/>
<ellipse cx="348" cy="703.2" rx="4.7" ry="4.8" fill="#fff" stroke="#000" stroke-width="1.1"/>
<ellipse cx="389.3" cy="711.4" rx="4.7" ry="4.8" fill="#fff" stroke="#000" stroke-width="1.1"/>
<rect x="260.40" y="702.60" width="9.0" height="8.4" fill="#fff" stroke="#000" stroke-width="1.1"/>
<rect x="301.80" y="625.30" width="9.0" height="8.4" fill="#fff" stroke="#000" stroke-width="1.1"/>
<rect x="343.50" y="641.20" width="9.0" height="8.4" fill="#fff" stroke="#000" stroke-width="1.1"/>
<rect x="384.80" y="702.00" width="9.0" height="8.4" fill="#fff" stroke="#000" stroke-width="1.1"/>
<rect x="259.90" y="702.10" width="10.0" height="9.4" fill="#000"/>
<rect x="301.30" y="663.30" width="10.0" height="9.4" fill="#000"/>
<rect x="343.00" y="704.30" width="10.0" height="9.4" fill="#000"/>
<rect x="384.30" y="704.50" width="10.0" height="9.4" fill="#000"/>
<polygon points="260.00,706.8 264.9,701.80 269.80,706.8 264.9,711.80" fill="#a8a8a8" stroke="#555" stroke-width="0.9"/>
<polygon points="301.40,707 306.3,702.00 311.20,707 306.3,712.00" fill="#a8a8a8" stroke="#555" stroke-width="0.9"/>
<rect x="260.40" y="702.60" width="9.0" height="8.4" fill="#fff" stroke="#000" stroke-width="1.1"/>
<polygon points="260.00,706.8 264.9,701.80 269.80,706.8 264.9,711.80" fill="#a8a8a8" stroke="#555" stroke-width="0.9"/>
<text x="267" y="768.5" font-size="15" text-anchor="middle">0</text>
<text x="308.3" y="768.5" font-size="15" text-anchor="middle">6</text>
<text x="346.4" y="768.5" font-size="15" text-anchor="middle">96</text>
<text x="387.5" y="768.5" font-size="15" text-anchor="middle">168</text>
</svg>
</body>
</html>
